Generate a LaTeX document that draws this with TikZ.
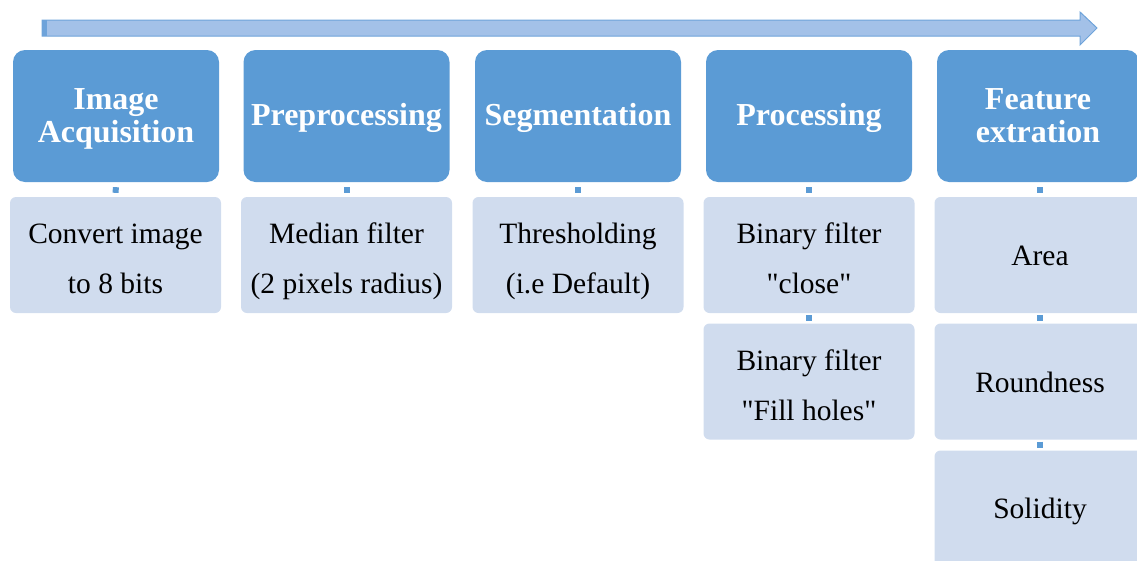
\documentclass[tikz,border=0pt]{standalone}
\usepackage{fontspec}
\setmainfont{Liberation Serif}
\definecolor{headblue}{HTML}{5B9BD5}
\definecolor{subblue}{HTML}{D0DCEE}
\definecolor{arrowfill}{HTML}{A3C1E8}
\definecolor{arrowedge}{HTML}{6EA3DA}
% struts that fix the height and depth of the text block inside its box
\newcommand\headstrut{\rule{0pt}{27pt}}
\newcommand\headend{\rule[-7pt]{0pt}{0pt}}
\newcommand\stepstrut{\rule{0pt}{35pt}}
\newcommand\stepend{\rule[-8pt]{0pt}{0pt}}
\newcommand\onestrut{\rule[-6pt]{0pt}{33pt}}
\tikzset{
  stage/.style={rectangle, rounded corners=12pt, fill=headblue, text=white,
    minimum width=206pt, minimum height=132pt, inner sep=0pt, align=center,
    font=\bfseries\fontsize{32}{33}\selectfont},
  substep/.style={rectangle, rounded corners=6pt, fill=subblue, text=black,
    minimum width=211pt, minimum height=116pt, inner sep=0pt, align=center,
    font=\fontsize{29.5}{50}\selectfont},
  dotlink/.style={draw=headblue, line width=6pt, shorten <=5pt, shorten >=4pt},
  dotshort/.style={draw=headblue, line width=6pt, shorten <=2pt, shorten >=2pt}
}
\begin{document}
\begin{tikzpicture}[x=1pt, y=-1pt]
\useasboundingbox (0,0) rectangle (1137,560);

% process direction arrow
\coordinate (arrStart) at (42,28);
\coordinate (arrEnd) at (1097,28);
\fill[arrowfill, draw=arrowedge, line width=1pt]
  (42,20) -- (1080,20) -- (1080,12) -- (arrEnd) -- (1080,45) -- (1080,36) -- (42,36) -- cycle;
\fill[arrowedge] (42,20) rectangle (47,36);

% stage headers
\node[stage] (h1) at (116,116) {\headstrut Image\\Acquisition\headend};
\node[stage] (h2) at (346.5,116) {\headstrut Preprocessing\headend};
\node[stage] (h3) at (578,116) {\headstrut Segmentation\headend};
\node[stage] (h4) at (809,116) {\headstrut Processing\headend};
\node[stage, minimum width=202pt] (h5) at (1038,116) {\headstrut Feature\\extration\headend};

% steps under each stage
\node[substep] (s1) at (115.5,255) {\stepstrut Convert image\\to 8 bits\stepend};
\node[substep] (s2) at (346.5,255) {\stepstrut Median filter\\(2 pixels radius)\stepend};
\node[substep] (s3) at (578,255) {\stepstrut Thresholding\\(i.e Default)\stepend};
\node[substep] (s4a) at (809,255) {\stepstrut Binary filter\\\textquotedbl close\textquotedbl\stepend};
\node[substep] (s4b) at (809,381.5) {\stepstrut Binary filter\\\textquotedbl Fill holes\textquotedbl\stepend};
\node[substep] (s5a) at (1040,255) {\onestrut Area};
\node[substep] (s5b) at (1040,381.5) {\onestrut Roundness};
\node[substep] (s5c) at (1040,508.5) {\onestrut Solidity};

% small connectors
\draw[dotlink] (h1.south) -- (s1.north);
\draw[dotlink] (h2.south) -- (s2.north);
\draw[dotlink] (h3.south) -- (s3.north);
\draw[dotlink] (h4.south) -- (s4a.north);
\draw[dotshort] (s4a.south) -- (s4b.north);
\draw[dotlink] (h5.south -| s5a.north) -- (s5a.north);
\draw[dotshort] (s5a.south) -- (s5b.north);
\draw[dotshort] (s5b.south) -- (s5c.north);
\end{tikzpicture}
\end{document}
